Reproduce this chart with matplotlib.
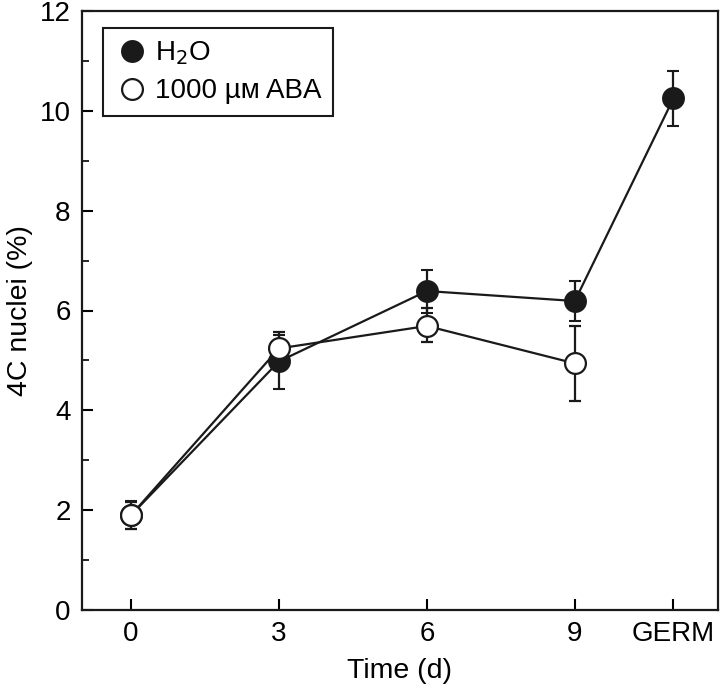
import matplotlib.pyplot as plt
from matplotlib.lines import Line2D
from matplotlib.ticker import MultipleLocator

plt.rcParams["font.family"] = ["Liberation Sans", "DejaVu Sans"]

# x positions of the sampling points (GERM drawn at 11)
x_pos = [0, 3, 6, 9, 11]
x_labels = ["0", "3", "6", "9", "GERM"]

# H2O series (%), with lower / upper error
h2o_vals = [1.90, 4.98, 6.39, 6.19, 10.25]
h2o_err_lo = [0.28, 0.55, 0.44, 0.41, 0.55]
h2o_err_hi = [0.28, 0.52, 0.42, 0.41, 0.55]

# 1000 uM ABA series (%), no GERM point
aba_x = [0, 3, 6, 9]
aba_vals = [1.90, 5.24, 5.69, 4.94]
aba_err_lo = [0.28, 0.33, 0.33, 0.75]
aba_err_hi = [0.27, 0.33, 0.36, 0.74]

ink = "#1a1a1a"

fig = plt.figure(figsize=(7.2, 6.9), dpi=100)
ax = fig.add_axes([0.1135, 0.116, 0.8835, 0.868])

ax.errorbar(
    x_pos, h2o_vals, yerr=[h2o_err_lo, h2o_err_hi],
    fmt="o-", color=ink, mfc=ink, mec=ink,
    ms=15, mew=1.5, lw=1.6, elinewidth=1.6, capsize=4.5, capthick=1.6,
    zorder=3,
)
ax.errorbar(
    aba_x, aba_vals, yerr=[aba_err_lo, aba_err_hi],
    fmt="o-", color=ink, mfc="white", mec=ink,
    ms=15, mew=1.6, lw=1.6, elinewidth=1.6, capsize=4.5, capthick=1.6,
    zorder=4,
)

ax.set_xlim(-1, 11.9)
ax.set_ylim(0, 12)
ax.set_xticks(x_pos)
ax.set_xticklabels(x_labels)
ax.yaxis.set_major_locator(MultipleLocator(2))
ax.yaxis.set_minor_locator(MultipleLocator(1))
ax.tick_params(axis="both", which="major", direction="in", length=8, width=1.5,
               labelsize=20, pad=8)
ax.tick_params(axis="y", which="minor", direction="in", length=5, width=1.2)
ax.tick_params(axis="x", which="minor", bottom=False)
for s in ax.spines.values():
    s.set_linewidth(1.6)
    s.set_color(ink)

ax.set_xlabel("Time (d)", fontsize=20.5, labelpad=8)
ax.set_ylabel("4C nuclei (%)", fontsize=20.5, labelpad=5)

# legend shows markers only
handles = [
    Line2D([], [], ls="none", marker="o", ms=15, mfc=ink, mec=ink, mew=1.5),
    Line2D([], [], ls="none", marker="o", ms=15, mfc="white", mec=ink, mew=1.6),
]
labels = ["H$_2$O", "1000 \u00b5\u1d0d ABA"]
leg = ax.legend(
    handles, labels,
    loc="upper left", bbox_to_anchor=(0.033, 0.971), borderaxespad=0,
    fontsize=20, fancybox=False, edgecolor=ink, framealpha=1,
    handletextpad=0.2, handlelength=1.3, borderpad=0.4, labelspacing=0.4,
)
leg.get_frame().set_linewidth(1.5)

fig.savefig("out.png", dpi=100)
